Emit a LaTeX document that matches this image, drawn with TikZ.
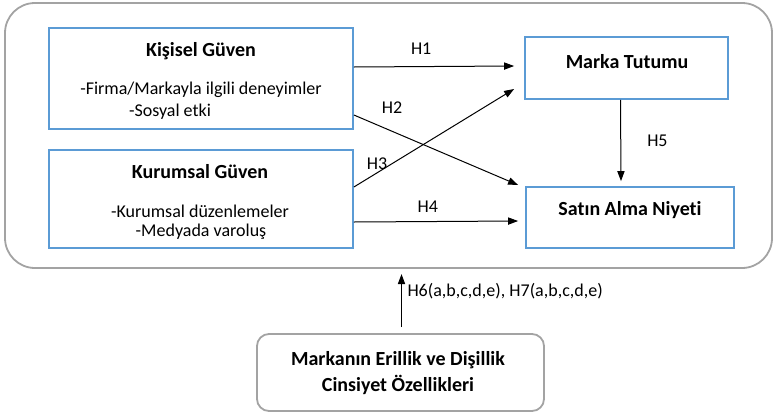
\documentclass[tikz,border=0pt]{standalone}
\usepackage{fontspec}
\setmainfont{Carlito}[Ligatures=NoCommon]
\usepackage{xcolor}
\usepackage{tikz}
\usetikzlibrary{arrows.meta,positioning,calc}

\definecolor{boxblue}{HTML}{5B9BD5}
\definecolor{framegray}{HTML}{A3A3A3}

\begin{document}
\begin{tikzpicture}[x=0.5pt,y=-0.5pt,>={Triangle[length=5pt,width=3.6pt]},
    bluebox/.style={draw=boxblue,line width=0.9pt,inner sep=0pt},
    graybox/.style={draw=framegray,line width=0.9pt,rounded corners=6pt,inner sep=0pt},
    title/.style={font=\fontsize{10}{12}\selectfont\bfseries,inner sep=0pt},
    item/.style={font=\fontsize{9}{11}\selectfont,inner sep=0pt},
    hlabel/.style={font=\fontsize{9}{11}\selectfont,inner sep=0pt},
    arr/.style={->,line width=0.5pt}]
  \useasboundingbox (0,0) rectangle (776,413);

  % outer frame
  \draw[framegray,line width=0.9pt,rounded corners=15pt] (5,3) rectangle (772,268);

  % boxes
  \node[bluebox,minimum width=152pt,minimum height=50.5pt] (kg) at (201,78.5) {};
  \node[bluebox,minimum width=152pt,minimum height=49pt] (ku) at (201,199) {};
  \node[bluebox,minimum width=101.5pt,minimum height=31pt] (mt) at (626.5,68) {};
  \node[bluebox,minimum width=104pt,minimum height=30.5pt] (sa) at (630,217.5) {};
  \node[graybox,minimum width=143.5pt,minimum height=38.5pt] (ce) at (400.5,372.5) {};

  % texts
  \node[title] (kgT) at (201,51) {Kişisel Güven};
  \node[item] (kgA) at (201,90) {-Firma/Markayla ilgili deneyimler};
  \node[item] (kgB) at (170,112) {-Sosyal etki};
  \node[title] (kuT) at (200,172) {Kurumsal Güven};
  \node[item] (kuA) at (200,211) {-Kurumsal düzenlemeler};
  \node[item] (kuB) at (201,232) {-Medyada varoluş};
  \node[title] (mtT) at (627,62) {Marka Tutumu};
  \node[title] (saT) at (630,210) {Satın Alma Niyeti};
  \node[title,align=center] (ceT) at (398,373) {Markanın Erillik ve Dişillik\\[0.6pt]Cinsiyet Özellikleri};

  % connectors
  \draw[arr] ($(kg.east)+(0,-11.5)$) -- ($(mt.west)+(-10,-2)$)
    node[hlabel,pos=0.42,above=6pt] (h1) {H1};
  \draw[arr] ($(kg.east)+(0,36.5)$) -- ($(sa.west)+(-7,-32.5)$);
  \node[hlabel] (h2) at (392,108) {H2};
  \draw[arr] ($(ku.east)+(0,-12)$) -- ($(mt.west)+(-10,21)$);
  \node[hlabel] (h3) at (377,164) {H3};
  \draw[arr] ($(ku.east)+(0,23)$) -- ($(sa.west)+(-7,3.5)$)
    node[hlabel,pos=0.45,above=4.3pt] (h4) {H4};
  \draw[arr] ($(mt.south)+(-6,0)$) -- ($(sa.north)+(-9,-5)$)
    node[hlabel,pos=0.5,right=13pt] (h5) {H5};
  \draw[arr] ($(ce.north)+(1,-6)$) -- ($(ce.north)+(1,-59)$)
    node[hlabel,pos=0.67,anchor=west,xshift=2.75pt] (h67) {H6(a,b,c,d,e), H7(a,b,c,d,e)};
\end{tikzpicture}
\end{document}
